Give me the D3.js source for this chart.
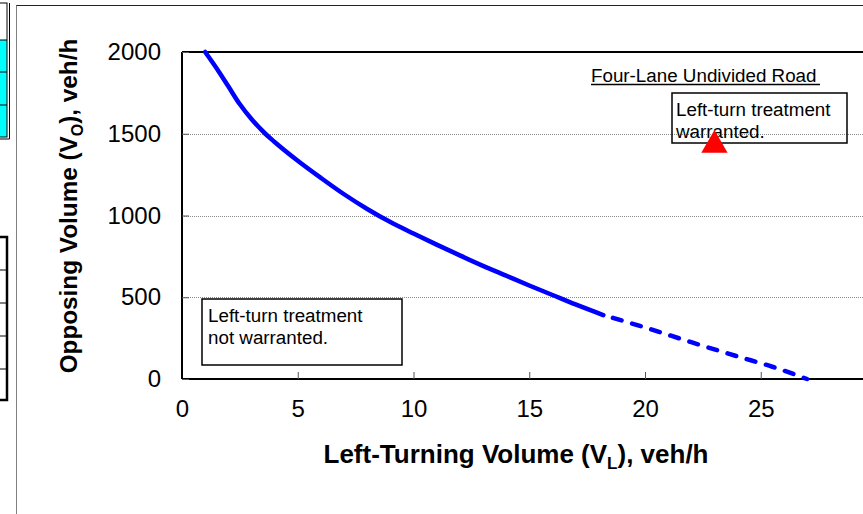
<!DOCTYPE html>
<html>
<head>
<meta charset="utf-8">
<script src="https://cdn.jsdelivr.net/npm/d3@7"></script>
<style>
html, body { margin: 0; padding: 0; background: #fff; overflow: hidden; }
svg { display: block; font-family: Arial, "Liberation Sans", sans-serif; }
</style>
</head>
<body>
<svg id="chart" width="863" height="514"></svg>
<script>
// ---- data ----
const solidVL = [1, 1.6, 2, 2.5, 3, 3.6, 4, 5, 6, 7, 8, 9, 10, 11, 12, 13, 14, 15, 16, 17, 18.2];
const solidVO = [2000, 1878, 1790, 1680, 1590, 1500, 1450, 1335, 1230, 1130, 1040, 960, 890, 822, 756, 692, 632, 572, 514, 456, 391];
const dashVL = [18.2, 20, 22, 24, 25.5, 27];
const dashVO = [391, 315, 225, 138, 75, 0];
const pointVL = [23];
const pointVO = [1430];
const xTicks = [0, 5, 10, 15, 20, 25, 30];
const yTicks = [0, 500, 1000, 1500, 2000];
const yGrid = [500, 1000, 1500];

const svg = d3.select("#chart");

// ---- worksheet fragments on the far left ----
const ws = svg.append("g");
ws.append("rect").attr("x", -2).attr("y", 40).attr("width", 9).attr("height", 97).attr("fill", "#00FFFF");
ws.append("rect").attr("x", -2).attr("y", 3).attr("width", 9).attr("height", 134).attr("fill", "none").attr("stroke", "#000").attr("stroke-width", 1);
ws.append("line").attr("x1", 9.5).attr("x2", 9.5).attr("y1", 3).attr("y2", 139).attr("stroke", "#000").attr("stroke-width", 1);
ws.append("line").attr("x1", -2).attr("x2", 9.5).attr("y1", 139).attr("y2", 139).attr("stroke", "#000").attr("stroke-width", 1);
[40, 72, 105].forEach(y => ws.append("line").attr("x1", -2).attr("x2", 7).attr("y1", y).attr("y2", y).attr("stroke", "#000").attr("stroke-width", 1));
ws.append("rect").attr("x", -3).attr("y", 237).attr("width", 10).attr("height", 163).attr("fill", "none").attr("stroke", "#000").attr("stroke-width", 2.5);
[270, 303, 336, 369].forEach(y => ws.append("line").attr("x1", -2).attr("x2", 7).attr("y1", y).attr("y2", y).attr("stroke", "#000").attr("stroke-width", 1));

// chart-area frame
svg.append("line").attr("x1", 16.5).attr("x2", 16.5).attr("y1", 5).attr("y2", 514).attr("stroke", "#808080").attr("stroke-width", 1);
svg.append("line").attr("x1", 16.5).attr("x2", 863).attr("y1", 5.5).attr("y2", 5.5).attr("stroke", "#222").attr("stroke-width", 1);

// ---- scales ----
const x = d3.scaleLinear().domain([0, 30]).range([182, 876.5]);
const y = d3.scaleLinear().domain([0, 2000]).range([379, 52]);

// gridlines
svg.append("g").selectAll("line").data(yGrid).join("line")
  .attr("x1", x(0)).attr("x2", 863)
  .attr("y1", d => Math.round(y(d)) + 0.5).attr("y2", d => Math.round(y(d)) + 0.5)
  .attr("stroke", "#8a8a8a").attr("stroke-width", 1).attr("stroke-dasharray", "1,1");

// plot top border
svg.append("line").attr("x1", x(0)).attr("x2", 863).attr("y1", y(2000)).attr("y2", y(2000))
  .attr("stroke", "#000").attr("stroke-width", 2);

// axes
const xAxis = d3.axisBottom(x).tickValues(xTicks).tickSize(-7).tickPadding(21).tickFormat(d3.format("d"));
const gx = svg.append("g").attr("transform", `translate(0,${y(0)})`).call(xAxis);
gx.select(".domain").attr("stroke-width", 2).attr("d", `M${x(0)},0H${x(30)}`);
gx.selectAll(".tick line").attr("stroke", "#555").attr("stroke-width", 1);
gx.selectAll(".tick text").attr("font-size", 24).attr("font-family", "Arial, 'Liberation Sans', sans-serif").attr("fill", "#000");

const yAxis = d3.axisLeft(y).tickValues(yTicks).tickSize(-7).tickPadding(21).tickFormat(d3.format("d"));
const gy = svg.append("g").attr("transform", `translate(${x(0)},0)`).call(yAxis);
gy.select(".domain").attr("stroke-width", 2).attr("d", `M0,${y(0)}V${y(2000)}`);
gy.selectAll(".tick line").attr("stroke", "#555").attr("stroke-width", 1);
gy.selectAll(".tick text").attr("font-size", 24).attr("font-family", "Arial, 'Liberation Sans', sans-serif").attr("fill", "#000");

// ---- curves ----
const line = d3.line().x(d => x(d[0])).y(d => y(d[1])).curve(d3.curveMonotoneX);
const solidData = solidVL.map((v, i) => [v, solidVO[i]]);
const dashData = dashVL.map((v, i) => [v, dashVO[i]]);
svg.append("path").datum(solidData).attr("d", line)
  .attr("fill", "none").attr("stroke", "#0000FF").attr("stroke-width", 4.5).attr("stroke-linecap", "round");
svg.append("path").datum(dashData).attr("d", line)
  .attr("fill", "none").attr("stroke", "#0000FF").attr("stroke-width", 4.5)
  .attr("stroke-dasharray", "9,11").attr("stroke-dashoffset", -10).attr("stroke-linecap", "round");

// ---- annotations ----
const ann = svg.append("g").attr("font-size", 18.8).attr("fill", "#000");
ann.append("text").attr("x", 591).attr("y", 82).text("Four-Lane Undivided Road");
ann.append("line").attr("x1", 591).attr("x2", 820).attr("y1", 84.5).attr("y2", 84.5).attr("stroke", "#000").attr("stroke-width", 1.5);

ann.append("rect").attr("x", 672).attr("y", 93).attr("width", 175).attr("height", 50)
  .attr("fill", "none").attr("stroke", "#000").attr("stroke-width", 1.5);
ann.append("text").attr("x", 676).attr("y", 116).text("Left-turn treatment");
ann.append("text").attr("x", 676).attr("y", 138).text("warranted.");

ann.append("rect").attr("x", 202).attr("y", 299).attr("width", 200).attr("height", 66)
  .attr("fill", "#fff").attr("stroke", "#000").attr("stroke-width", 1.5);
ann.append("text").attr("x", 208).attr("y", 322).text("Left-turn treatment");
ann.append("text").attr("x", 208).attr("y", 344).text("not warranted.");

// red triangle point
svg.append("g").selectAll("path").data(pointVL.map((v, i) => [v, pointVO[i]])).join("path")
  .attr("transform", d => `translate(${x(d[0])},${y(d[1])})`)
  .attr("d", d3.symbol().type(d3.symbolTriangle).size(300))
  .attr("fill", "#FF0000");

// ---- axis titles ----
const xt = svg.append("text").attr("x", 516).attr("y", 463).attr("text-anchor", "middle")
  .attr("font-size", 26).attr("font-weight", "bold");
xt.append("tspan").text("Left-Turning Volume (V");
xt.append("tspan").attr("font-size", 17).attr("dy", 6).text("L");
xt.append("tspan").attr("dy", -6).text("), veh/h");

const yt = svg.append("text").attr("transform", "translate(77,206) rotate(-90)").attr("text-anchor", "middle")
  .attr("font-size", 24.3).attr("font-weight", "bold");
yt.append("tspan").text("Opposing Volume (V");
yt.append("tspan").attr("font-size", 16).attr("dy", 6).text("O");
yt.append("tspan").attr("dy", -6).text("), veh/h");
</script>
</body>
</html>
